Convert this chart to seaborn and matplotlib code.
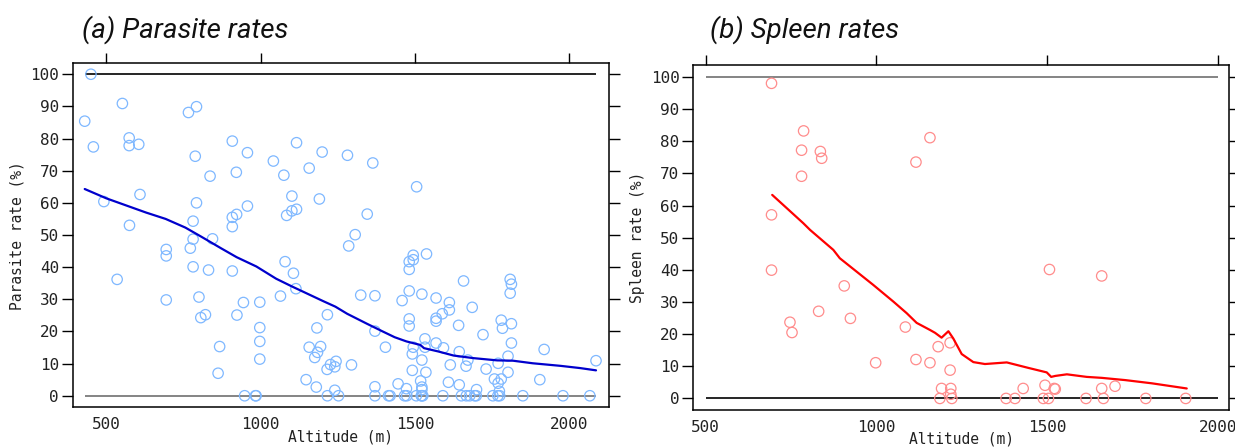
import numpy as np
import pandas as pd
import matplotlib
matplotlib.use("Agg")
import matplotlib.pyplot as plt
import seaborn as sns

# ---- (a) parasite rates by altitude ----
parasite_alt = [430, 450, 458, 492, 535, 552, 574, 574, 605, 575, 609, 694, 694, 694,
                766, 792, 788, 792, 781, 781, 772, 781, 800, 806, 821, 831, 836, 844,
                867, 862, 908, 908, 922, 908, 921, 908, 923, 944, 948, 957, 957, 983,
                985, 997, 997, 997, 997, 1041, 1064, 1075, 1101, 1084, 1101, 1116, 1116,
                1079, 1106, 1114, 1147, 1157, 1157, 1180, 1182, 1175, 1184, 1194, 1190,
                1199, 1216, 1215, 1226, 1240, 1244, 1216, 1240, 1252, 1281, 1285, 1306,
                1294, 1324, 1345, 1363, 1370, 1370, 1370, 1370, 1404, 1414, 1419, 1445,
                1458, 1466, 1472, 1473, 1481, 1481, 1494, 1494, 1481, 1481, 1481, 1494,
                1491, 1491, 1505, 1504, 1522, 1522, 1518, 1522, 1522, 1520, 1522, 1525,
                1532, 1532, 1535, 1537, 1568, 1568, 1568, 1588, 1568, 1592, 1590, 1611,
                1611, 1614, 1608, 1641, 1643, 1643, 1650, 1657, 1671, 1665, 1685, 1699,
                1666, 1677, 1693, 1698, 1720, 1730, 1752, 1757, 1769, 1769, 1779, 1779,
                1783, 1768, 1774, 1773, 1801, 1801, 1808, 1812, 1808, 1812, 1812, 1849,
                1904, 1918, 1979, 2066, 2086]
parasite_rate = [85.4, 100, 77.4, 60.4, 36.2, 90.9, 80.2, 77.8, 78.2, 53.0, 62.6, 45.5, 43.5, 29.8,
                 88.1, 89.9, 74.5, 60.0, 54.3, 48.7, 45.9, 40.1, 30.7, 24.3, 25.2, 39.1, 68.3, 48.8,
                 15.3, 7.0, 79.2, 55.5, 56.4, 52.6, 69.5, 38.8, 25.1, 29.0, 0, 75.6, 59.0, 0,
                 0, 29.1, 21.2, 16.9, 11.4, 73.0, 31.0, 68.6, 62.1, 56.1, 57.5, 58.0, 78.7,
                 41.7, 38.1, 33.3, 5.0, 70.8, 15.1, 2.7, 21.1, 11.9, 13.5, 15.3, 61.2,
                 75.8, 25.2, 8.2, 9.7, 9.0, 10.7, 0, 1.7, 0, 74.8, 46.6, 50.1,
                 9.6, 31.3, 56.5, 72.4, 31.1, 20.1, 2.8, 0, 15.1, 0, 0, 3.7,
                 29.6, 0, 2.2, 0, 39.3, 41.7, 43.7, 42.3, 32.6, 23.9, 21.7, 15.1,
                 13.0, 7.9, 65.0, 0, 31.6, 11.1, 4.6, 2.7, 1.9, 0, 0, 0,
                 17.7, 15.1, 7.3, 44.1, 30.4, 24.1, 23.2, 25.5, 16.4, 14.9, 0, 29.0,
                 26.7, 9.6, 4.2, 21.9, 13.7, 3.4, 0, 35.7, 11.1, 9.2, 27.5, 1.9,
                 0, 0, 0, 0, 19.0, 8.3, 0, 5.2, 10.1, 3.9, 5.2, 23.5,
                 21.0, 0, 0, 1.4, 12.3, 7.3, 36.2, 34.7, 31.9, 22.4, 16.4, 0,
                 5.0, 14.4, 0, 0, 10.9]

# smoothed trend for parasite rates
parasite_fit_alt = [430, 500, 628, 692, 756, 807, 871, 922, 986, 1050, 1101, 1152, 1203,
                    1242, 1280, 1344, 1395, 1434, 1472, 1517, 1529, 1574, 1625, 1689,
                    1766, 1817, 1881, 1971, 2035, 2086]
parasite_fit_rate = [64.3, 61.4, 57.0, 55.0, 52.3, 49.5, 45.9, 43.1, 40.2, 36.4, 34.0, 31.7,
                     29.4, 27.7, 25.5, 22.4, 20.0, 18.2, 16.9, 15.8, 14.8, 13.8, 12.5, 11.7,
                     11.0, 10.9, 10.1, 9.3, 8.6, 7.9]

# ---- (b) spleen rates by altitude ----
spleen_alt = [693, 787, 781, 836, 840, 781, 693, 1116, 1157, 693, 906, 831, 747, 753,
              924, 1085, 998, 1116, 1157, 1181, 1216, 1216, 1191, 1218, 1186, 1218, 1221,
              1507, 1660, 1430, 1380, 1406, 1494, 1489, 1504, 1521, 1524, 1614, 1660,
              1665, 1699, 1789, 1906]
spleen_rate = [98.0, 83.2, 77.2, 76.8, 74.7, 69.1, 57.1, 73.5, 81.1, 39.9, 35.0, 27.1, 23.7, 20.5,
               24.9, 22.2, 11.1, 12.1, 11.1, 16.1, 17.3, 8.8, 3.1, 3.1, 0, 1.3, 0,
               40.1, 38.1, 3.1, 0, 0, 4.1, 0, 0, 3.1, 2.9, 0, 3.1,
               0, 3.8, 0, 0]

spleen_fit_alt = [695, 786, 806, 874, 893, 991, 1050, 1089, 1118, 1157, 1172, 1191, 1211,
                  1225, 1250, 1284, 1318, 1382, 1445, 1499, 1512, 1524, 1558, 1616, 1660,
                  1729, 1807, 1909]
spleen_fit_rate = [63.3, 54.5, 52.4, 46.2, 43.6, 35.3, 30.1, 26.5, 23.5, 21.3, 20.4, 18.9, 20.9,
                   18.7, 13.8, 11.3, 10.7, 11.2, 9.5, 8.1, 6.7, 7.0, 7.5, 6.7, 6.4,
                   5.7, 4.7, 3.1]

x_ticks = [500, 1000, 1500, 2000]
y_ticks = [0, 10, 20, 30, 40, 50, 60, 70, 80, 90, 100]
ref_levels = [0, 100]

panels = [
    dict(title="(a) Parasite rates", ylabel="Parasite rate (%)",
         alt=parasite_alt, rate=parasite_rate,
         fit_alt=parasite_fit_alt, fit_rate=parasite_fit_rate,
         pt_color="#7fb8ff", line_color="#0000cc",
         xlim=(392, 2128), ylim=(-3.6, 103.4),
         span=(min(parasite_alt), max(parasite_alt)),
         ref_colors=("#707070", "black"),
         rect=[0.0591, 0.0908, 0.4340, 0.7679], title_x=82),
    dict(title="(b) Spleen rates", ylabel="Spleen rate (%)",
         alt=spleen_alt, rate=spleen_rate,
         fit_alt=spleen_fit_alt, fit_rate=spleen_fit_rate,
         pt_color="#ff8c8c", line_color="#ff0000",
         xlim=(464, 2033), ylim=(-3.6, 103.6),
         span=(x_ticks[0], x_ticks[-1]),
         ref_colors=("black", "#707070"),
         rect=[0.5614, 0.0848, 0.4338, 0.7694], title_x=710),
]

sns.set_theme(style="white")
plt.rcParams["font.family"] = ["DejaVu Sans Mono", "DejaVu Sans"]

fig = plt.figure(figsize=(12.35, 4.48), dpi=100)

for p in panels:
    ax = fig.add_axes(p["rect"])
    for lvl, col in zip(ref_levels, p["ref_colors"]):
        ax.hlines(lvl, p["span"][0], p["span"][1], color=col, linewidth=1.2, zorder=1)

    pts = pd.DataFrame({"alt": p["alt"], "rate": p["rate"]})
    sns.scatterplot(data=pts, x="alt", y="rate", ax=ax, marker="o", s=56,
                    facecolor="none", edgecolor=p["pt_color"], linewidth=0.9, zorder=2)

    fit = pd.DataFrame({"alt": p["fit_alt"], "rate": p["fit_rate"]})
    sns.lineplot(data=fit, x="alt", y="rate", ax=ax, sort=False, estimator=None,
                 color=p["line_color"], linewidth=1.6, zorder=3)

    ax.set_xlim(*p["xlim"])
    ax.set_ylim(*p["ylim"])
    ax.set_xticks(x_ticks)
    ax.set_yticks(y_ticks)
    ax.set_xticklabels([str(v) for v in x_ticks])
    ax.set_yticklabels([str(v) for v in y_ticks])
    ax.tick_params(axis="x", bottom=False, top=True, labelbottom=True, labeltop=False,
                   direction="out", length=7, width=1, color="black", pad=0,
                   labelsize=11.5, labelcolor="#222222")
    ax.tick_params(axis="y", left=True, right=True, labelleft=True, labelright=False,
                   direction="out", length=8, width=1, color="black", pad=2,
                   labelsize=11.5, labelcolor="#222222")
    for s in ax.spines.values():
        s.set_color("black")
        s.set_linewidth(1.1)
    ax.set_xlabel("Altitude (m)", fontsize=10.5, labelpad=-2, color="#222222")
    ax.set_ylabel(p["ylabel"], fontsize=10.5, labelpad=4, color="#222222")
    ax.grid(False)

    fig.text(p["title_x"] / 1235, 1 - 38 / 448, p["title"], fontsize=20, style="italic",
             family=["Roboto", "DejaVu Sans"], color="#111111",
             ha="left", va="baseline")

fig.savefig("out.png", dpi=100)
